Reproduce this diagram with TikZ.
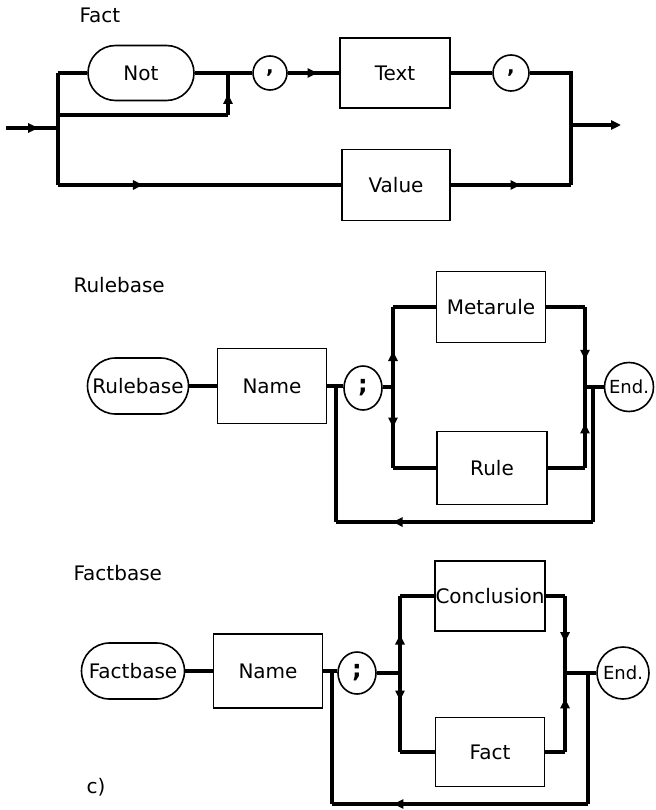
\documentclass[tikz,border=0pt]{standalone}
\usepackage{fontspec}
\setmainfont{DejaVu Sans}
\usetikzlibrary{arrows.meta,shapes.misc,shapes.geometric,decorations.markings}
\begin{document}
\begin{tikzpicture}[x=1pt,y=-1pt,
  txt/.style={font=\fontsize{20}{23}\selectfont},
  box/.style={draw,line width=1.5pt,rectangle,inner sep=0pt,txt},
  rbox/.style={draw,line width=1.6pt,rounded rectangle,inner sep=0pt,txt},
  circ/.style={draw,line width=1.6pt,ellipse,inner sep=0pt,txt},
  endc/.style={draw,line width=1.6pt,circle,inner sep=0pt,font=\fontsize{18}{20}\selectfont},
  conn/.style={line width=3.4pt},
  arrmark/.style={postaction={decorate,decoration={markings,mark=at position #1 with {\arrow{Triangle[length=10pt,width=9pt]}}}}},
  lab/.style={txt,anchor=west}]
\useasboundingbox (0,0) rectangle (655,810);

% ---------------- Fact ----------------
\node[lab] (tfact) at (76,15) {Fact};
\node[rbox,minimum width=106pt,minimum height=55pt] (not) at (141,73) {Not};
\node[circ,minimum width=34pt,minimum height=34pt] (c1) at (270,73) {\bfseries ,};
\node[box,minimum width=110pt,minimum height=70pt] (text) at (395,73) {Text};
\node[circ,minimum width=36pt,minimum height=36pt] (c2) at (511,73) {\bfseries ,};
\node[box,minimum width=108pt,minimum height=71pt] (value) at (396,185) {Value};
\coordinate (fin) at (6,128);
\coordinate (fj) at (58,128);
\coordinate (flt) at (58,73);
\coordinate (flb) at (58,185);
\coordinate (fb1) at (58,115);
\coordinate (fb2) at (228,115);
\coordinate (fb3) at (228,73);
\coordinate (frt) at (571,73);
\coordinate (frb) at (571,185);
\coordinate (frj) at (571,125);
\coordinate (fout) at (621,125);

\draw[conn,arrmark=0.62] (fin) -- (fj);
\draw[conn] (flt) -- (flb);
\draw[conn] (flt) -- (not.west);
\draw[conn] (not.east) -- (c1.west);
\draw[conn] (fb1) -- (fb2);
\draw[conn,arrmark=0.5] (fb2) -- (fb3);
\draw[conn,arrmark=0.58] (c1.east) -- (text.west);
\draw[conn] (text.east) -- (c2.west);
\draw[conn] (c2.east) -- (frt) -- (frb);
\draw[conn,arrmark=0.3] (flb) -- (value.west);
\draw[conn,arrmark=0.58] (value.east) -- (frb);
\draw[conn,-{Triangle[length=10pt,width=9pt]}] (frj) -- (fout);

% ---------------- Rulebase ----------------
\node[lab] (trule) at (70,285) {Rulebase};
\node[rbox,minimum width=101pt,minimum height=56pt] (rbn) at (138,386) {Rulebase};
\node[box,minimum width=109pt,minimum height=75pt] (rname) at (272,386) {Name};
\node[circ,minimum width=38pt,minimum height=44pt] (rsemi) at (363,388) {\bfseries\fontsize{24}{26}\selectfont ;};
\node[box,minimum width=109pt,minimum height=71pt] (meta) at (491,307) {Metarule};
\node[box,minimum width=110pt,minimum height=73pt] (rule) at (492,468) {Rule};
\node[endc,minimum size=49pt] (rend) at (629,387) {End.};
\coordinate (rf1) at (336,386);
\coordinate (rf1b) at (336,522);
\coordinate (rf2b) at (593,522);
\coordinate (rf2) at (593,387);
\coordinate (rb1) at (393,387);
\coordinate (rbt) at (393,307);
\coordinate (rbb) at (393,468);
\coordinate (rrt) at (585,307);
\coordinate (rrb) at (585,468);
\coordinate (rrj) at (585,387);

\draw[conn] (rbn.east) -- (rname.west);
\draw[conn] (rname.east) -- (rsemi.west |- rname.east);
\draw[conn] (rsemi.east |- rb1) -- (rb1);
\draw[conn,arrmark=0.45] (rb1) -- (rbt);
\draw[conn] (rbt) -- (meta.west);
\draw[conn,arrmark=0.5] (rb1) -- (rbb);
\draw[conn] (rbb) -- (rule.west);
\draw[conn] (meta.east) -- (rrt);
\draw[conn,arrmark=0.66] (rrt) -- (rrj);
\draw[conn] (rule.east) -- (rrb);
\draw[conn,arrmark=0.55] (rrb) -- (rrj);
\draw[conn] (rrj) -- (rend.west);
\draw[conn] (rf2) -- (rf2b);
\draw[conn,arrmark=0.78] (rf2b) -- (rf1b);
\draw[conn] (rf1b) -- (rf1);

% ---------------- Factbase ----------------
\node[lab] (tfb) at (70,573) {Factbase};
\node[rbox,minimum width=103pt,minimum height=56pt] (fbn) at (133,671) {Factbase};
\node[box,minimum width=109pt,minimum height=74pt] (fname) at (268,671) {Name};
\node[circ,minimum width=38pt,minimum height=42pt] (fsemi) at (357,673) {\bfseries\fontsize{24}{26}\selectfont ;};
\node[box,minimum width=110pt,minimum height=70pt] (concl) at (490,596) {Conclusion};
\node[box,minimum width=109pt,minimum height=69pt] (fact) at (490,752) {Fact};
\node[endc,minimum size=52pt] (fend) at (623,673) {End.};
\node[txt,anchor=west] (cl) at (83,787) {c)};
\coordinate (ff1) at (332,671);
\coordinate (ff1b) at (332,804);
\coordinate (ff2b) at (588,804);
\coordinate (ff2) at (588,673);
\coordinate (fb1x) at (400,673);
\coordinate (fbt) at (400,596);
\coordinate (fbb) at (400,752);
\coordinate (frt2) at (565,596);
\coordinate (frb2) at (565,752);
\coordinate (frj2) at (565,673);

\draw[conn] (fbn.east) -- (fname.west);
\draw[conn] (fname.east) -- (fsemi.west |- fname.east);
\draw[conn] (fsemi.east |- fb1x) -- (fb1x);
\draw[conn,arrmark=0.5] (fb1x) -- (fbt);
\draw[conn] (fbt) -- (concl.west);
\draw[conn,arrmark=0.35] (fb1x) -- (fbb);
\draw[conn] (fbb) -- (fact.west);
\draw[conn] (concl.east) -- (frt2);
\draw[conn,arrmark=0.6] (frt2) -- (frj2);
\draw[conn] (fact.east) -- (frb2);
\draw[conn,arrmark=0.68] (frb2) -- (frj2);
\draw[conn] (frj2) -- (fend.west);
\draw[conn] (ff2) -- (ff2b);
\draw[conn,arrmark=0.76] (ff2b) -- (ff1b);
\draw[conn] (ff1b) -- (ff1);
\end{tikzpicture}
\end{document}
